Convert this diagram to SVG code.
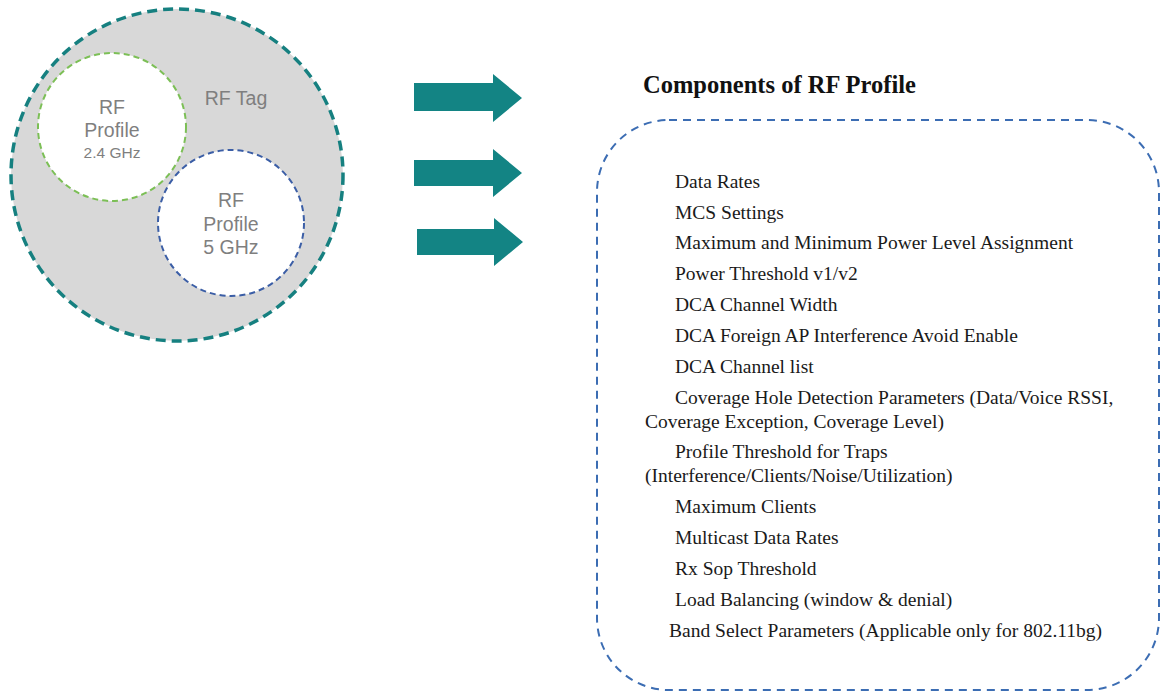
<svg xmlns="http://www.w3.org/2000/svg" width="1161" height="692" viewBox="0 0 1161 692">
<style>
.sans{font-family:"Liberation Sans",Arial,sans-serif;fill:#7f7f7f;text-anchor:middle;font-size:19.5px}
.ser{font-family:"Liberation Serif","Times New Roman",serif;fill:#1a1a1a;font-size:19.5px}
.arrow{fill:#138484}
</style>
<rect width="1161" height="692" fill="#ffffff"/>
<g id="rf-tag">
<circle cx="177" cy="175" r="166" fill="#d8d8d8" stroke="#168080" stroke-width="3.5" stroke-dasharray="10,6"/>
<text class="sans" x="236" y="105">RF Tag</text>
</g>
<g id="profile-24">
<circle cx="112" cy="127" r="74" fill="#ffffff" stroke="#7cbf56" stroke-width="2" stroke-dasharray="6,4"/>
<text class="sans" x="112" y="114">RF</text>
<text class="sans" x="112" y="137">Profile</text>
<text class="sans" x="112" y="158" style="font-size:15.5px">2.4 GHz</text>
</g>
<g id="profile-5">
<circle cx="231" cy="223" r="73" fill="#ffffff" stroke="#3b5ea6" stroke-width="2" stroke-dasharray="6,4"/>
<text class="sans" x="231" y="207">RF</text>
<text class="sans" x="231" y="231">Profile</text>
<text class="sans" x="231" y="254">5 GHz</text>
</g>
<g id="connectors">
<polygon class="arrow" points="414,83 493,83 493,74 522,98 493,122 493,111 414,111"/>
<polygon class="arrow" points="414,160 493,160 493,149 522,173 493,197 493,186 414,186"/>
<polygon class="arrow" points="417,229 494,229 494,218 523,242 494,266 494,255 417,255"/>
</g>
<g id="components">
<text x="643" y="93" font-family="'Liberation Serif','Times New Roman',serif" font-weight="bold" font-size="24.5" fill="#111111">Components of RF Profile</text>
<rect x="597" y="120" width="562" height="570" rx="72" ry="72" fill="none" stroke="#3c6db3" stroke-width="2" stroke-dasharray="8,6"/>
<text class="ser" x="675" y="188">Data Rates</text>
<text class="ser" x="675" y="219">MCS Settings</text>
<text class="ser" x="675" y="249">Maximum and Minimum Power Level Assignment</text>
<text class="ser" x="675" y="280">Power Threshold v1/v2</text>
<text class="ser" x="675" y="311">DCA Channel Width</text>
<text class="ser" x="675" y="342">DCA Foreign AP Interference Avoid Enable</text>
<text class="ser" x="675" y="373">DCA Channel list</text>
<text class="ser" x="675" y="404">Coverage Hole Detection Parameters (Data/Voice RSSI,</text>
<text class="ser" x="645" y="428">Coverage Exception, Coverage Level)</text>
<text class="ser" x="675" y="458">Profile Threshold for Traps</text>
<text class="ser" x="645" y="482">(Interference/Clients/Noise/Utilization)</text>
<text class="ser" x="675" y="513">Maximum Clients</text>
<text class="ser" x="675" y="544">Multicast Data Rates</text>
<text class="ser" x="675" y="575">Rx Sop Threshold</text>
<text class="ser" x="675" y="606">Load Balancing (window &amp; denial)</text>
<text class="ser" x="669" y="637">Band Select Parameters (Applicable only for 802.11bg)</text>
</g>
</svg>
